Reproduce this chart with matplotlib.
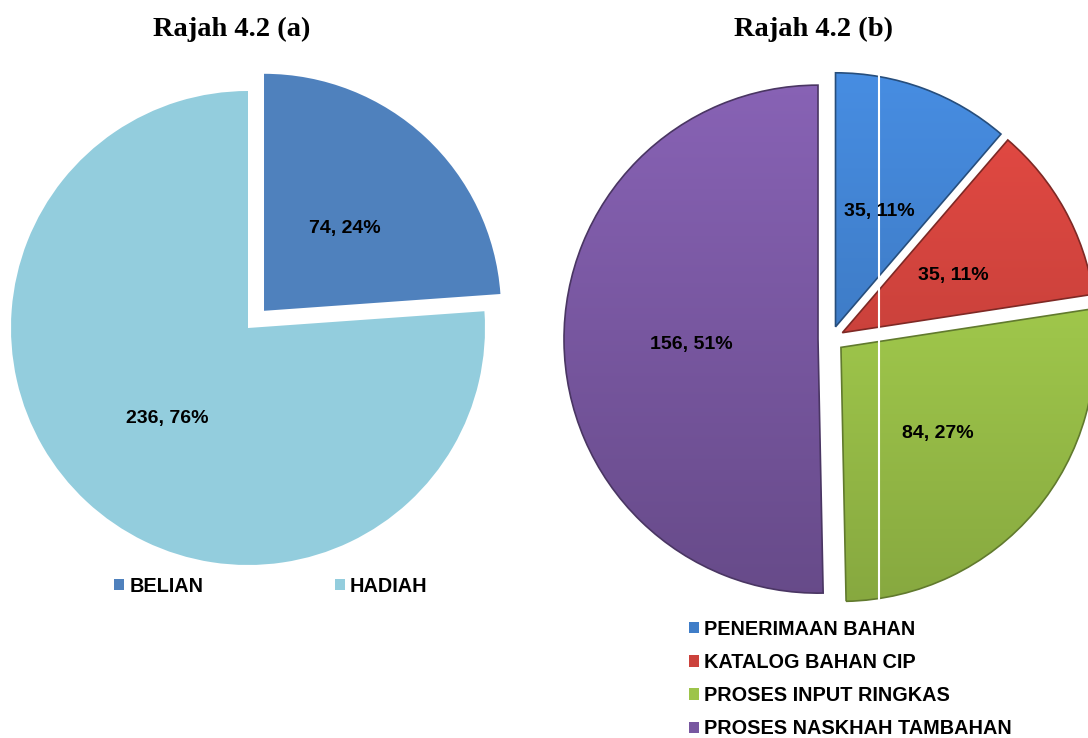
import numpy as np
import matplotlib
matplotlib.use("Agg")
import matplotlib.pyplot as plt
import matplotlib.patches as mpatches
from matplotlib.colors import to_rgb

# ---------------- data ----------------
title_a = "Rajah 4.2 (a)"
cats_a = ["BELIAN", "HADIAH"]
vals_a = [74, 236]
pcts_a = [24, 76]
colors_a = ["#4F81BD", "#93CDDD"]

title_b = "Rajah 4.2 (b)"
cats_b = ["PENERIMAAN BAHAN", "KATALOG BAHAN CIP",
          "PROSES INPUT RINGKAS", "PROSES NASKHAH TAMBAHAN"]
vals_b = [35, 35, 84, 156]
pcts_b = [11, 11, 27, 51]
colors_b = ["#3F7DC8", "#CC423C", "#9DC44A", "#7857A0"]

# ---------------- layout ----------------
W, H = 1088, 738
fig = plt.figure(figsize=(W / 100, H / 100), dpi=100)
ax = fig.add_axes([0, 0, 1, 1])


def py(y):
    return H - y


FAM = ["Liberation Sans", "DejaVu Sans"]
txt_kw = dict(fontsize=14, fontweight="bold", family=FAM, color="black")

# ---- left pie ----
labels_a = [f"{v}, {p}%" for v, p in zip(vals_a, pcts_a)]
it_a = iter(labels_a)
wa, _, aa = ax.pie(vals_a, colors=colors_a, startangle=90, counterclock=False,
                   center=(248, py(328)), radius=237, explode=[23.5, 0],
                   autopct=lambda p: next(it_a), pctdistance=0.5,
                   textprops=txt_kw, wedgeprops=dict(linewidth=0), frame=True)

# ---- right pie ----
labels_b = [f"{v}, {p}%" for v, p in zip(vals_b, pcts_b)]
it_b = iter(labels_b)
wb, _, ab = ax.pie(vals_b, colors=colors_b, startangle=90, counterclock=False,
                   center=(831, py(339)), radius=254, explode=[13] * 4,
                   autopct=lambda p: next(it_b), pctdistance=0.5,
                   textprops=txt_kw, wedgeprops=dict(linewidth=0), frame=True)

# gradient shading + darker outline for the right pie (bevel look)
N = 256
for w, c in zip(wb, colors_b):
    base = np.array(to_rgb(c))
    fac = np.linspace(1.13, 0.86, N)[:, None, None]
    grad = np.clip(base[None, None, :] * fac, 0, 1)
    cx, cy = w.center
    r = w.r
    im = ax.imshow(grad, extent=(cx - r, cx + r, cy - r, cy + r), origin="upper",
                   interpolation="bicubic", aspect="equal", zorder=1.5)
    im.set_clip_path(w)
    dark = np.clip(base * 0.62, 0, 1)
    ax.add_patch(mpatches.Wedge(w.center, w.r, w.theta1, w.theta2, fill=False,
                                edgecolor=dark, linewidth=1.2, zorder=2))

# nudge value labels slightly down, as in the reference
for t in list(aa) + list(ab):
    x, y = t.get_position()
    t.set_position((x, y - 4))
    t.set_zorder(4)

# thin white seam line through the right pie
ax.plot([879, 879], [py(72), py(604)], color="white", lw=1.5, zorder=3)

# titles
ax.text(232, py(29), title_a, ha="center", va="center", fontsize=20.5,
        fontweight="bold", family=["Liberation Serif", "DejaVu Serif"])
ax.text(814, py(29), title_b, ha="center", va="center", fontsize=20.5,
        fontweight="bold", family=["Liberation Serif", "DejaVu Serif"])

# legends
prop = dict(size=14.3, weight="bold", family=FAM)
leg_a = ax.legend(wa, cats_a, ncol=2, loc="center left",
                  bbox_to_anchor=(114 / W, 1 - 586 / H), bbox_transform=fig.transFigure,
                  frameon=False, prop=prop, handlelength=0.52, handleheight=0.52,
                  handletextpad=0.26, columnspacing=6.6, borderpad=0, borderaxespad=0)
ax.add_artist(leg_a)
leg_b = ax.legend(wb, cats_b, loc="center left",
                  bbox_to_anchor=(689 / W, 1 - 679 / H), bbox_transform=fig.transFigure,
                  frameon=False, prop=prop, handlelength=0.52, handleheight=0.52,
                  handletextpad=0.26, labelspacing=0.72, borderpad=0, borderaxespad=0)

ax.set_xlim(0, W)
ax.set_ylim(0, H)
ax.set_aspect("equal")
ax.axis("off")

fig.savefig("out.png", dpi=100)
